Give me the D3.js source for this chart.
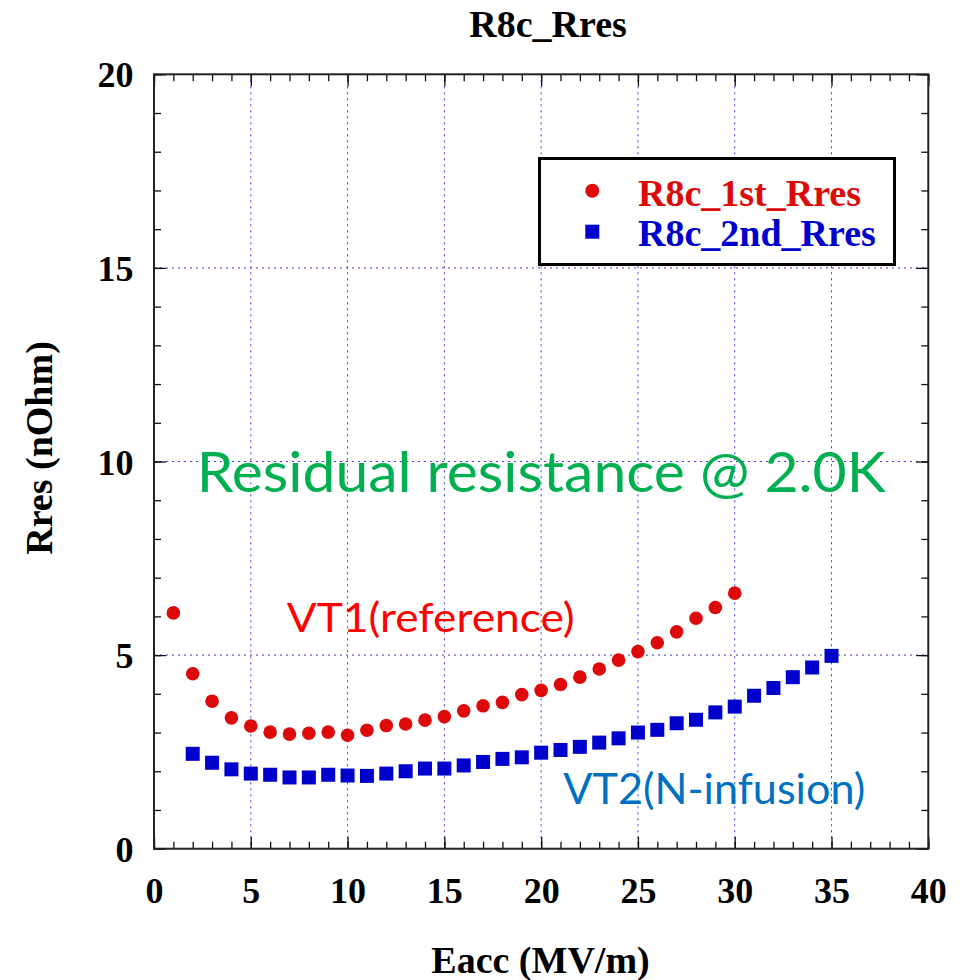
<!DOCTYPE html>
<html>
<head>
<meta charset="utf-8">
<script src="https://cdn.jsdelivr.net/npm/d3@7"></script>
<style>
html,body{margin:0;padding:0;background:#fff;}
svg{display:block;}
</style>
</head>
<body>
<svg id="chart" width="965" height="980"></svg>
<script>
// ---- data ----
const eacc1 = [1,2,3,4,5,6,7,8,9,10,11,12,13,14,15,16,17,18,19,20,21,22,23,24,25,26,27,28,29,30];
const rres1 = [6.09,4.52,3.81,3.38,3.17,3.01,2.96,2.98,3.01,2.93,3.06,3.18,3.22,3.32,3.41,3.56,3.69,3.78,3.98,4.09,4.24,4.43,4.64,4.87,5.09,5.32,5.60,5.95,6.23,6.60];
const eacc2 = [2,3,4,5,6,7,8,9,10,11,12,13,14,15,16,17,18,19,20,21,22,23,24,25,26,27,28,29,30,31,32,33,34,35];
const rres2 = [2.45,2.22,2.05,1.94,1.91,1.84,1.84,1.91,1.89,1.88,1.94,2.00,2.07,2.07,2.15,2.24,2.32,2.36,2.48,2.55,2.63,2.74,2.85,3.00,3.07,3.24,3.33,3.52,3.67,3.95,4.15,4.43,4.68,4.98];
const xTicks = [0,5,10,15,20,25,30,35,40];
const yTicks = [0,5,10,15,20];
const seriesNames = ["R8c_1st_Rres","R8c_2nd_Rres"];
const chartTitle = "R8c_Rres";
const xTitle = "Eacc (MV/m)";
const yTitle = "Rres (nOhm)";

const svg = d3.select("#chart");
const L = 154, R = 928.3, T = 74.3, B = 848.7;
const x = d3.scaleLinear().domain([0,40]).range([L,R]);
const y = d3.scaleLinear().domain([0,20]).range([B,T]);
const serif = "'Liberation Serif','Times New Roman',serif";

// grid
const grid = svg.append("g").attr("stroke","#3a3ae0").attr("stroke-width",1).attr("stroke-dasharray","2,4");
xTicks.filter(d=>d>0&&d<40).forEach(d=>{
  grid.append("line").attr("x1",x(d)).attr("x2",x(d)).attr("y1",T).attr("y2",B);
});
yTicks.filter(d=>d>0&&d<20).forEach(d=>{
  grid.append("line").attr("x1",L).attr("x2",R).attr("y1",y(d)).attr("y2",y(d));
});

// axes
const minorX = d3.range(0,41,1), minorY = d3.range(0,21,1);
function styleAxis(g){
  g.select(".domain").remove();
  g.selectAll("line").attr("stroke","#111").attr("stroke-width",1.3);
}
svg.append("g").attr("transform",`translate(0,${B})`)
  .call(d3.axisBottom(x).tickValues(minorX).tickSize(-7).tickFormat(""))
  .call(styleAxis);
svg.append("g").attr("transform",`translate(0,${B})`)
  .call(d3.axisBottom(x).tickValues(xTicks).tickSize(-12).tickFormat(d3.format("d")))
  .call(styleAxis)
  .call(g=>g.selectAll("text").attr("y",54).attr("dy",null)
     .attr("font-family",serif).attr("font-weight","bold").attr("font-size",36).attr("fill","#000"));
svg.append("g").attr("transform",`translate(0,${T})`)
  .call(d3.axisTop(x).tickValues(minorX).tickSize(-7).tickFormat(""))
  .call(styleAxis);
svg.append("g").attr("transform",`translate(0,${T})`)
  .call(d3.axisTop(x).tickValues(xTicks).tickSize(-12).tickFormat(""))
  .call(styleAxis);
svg.append("g").attr("transform",`translate(${L},0)`)
  .call(d3.axisLeft(y).tickValues(minorY).tickSize(-7).tickFormat(""))
  .call(styleAxis);
svg.append("g").attr("transform",`translate(${L},0)`)
  .call(d3.axisLeft(y).tickValues(yTicks).tickSize(-12).tickFormat(d3.format("d")))
  .call(styleAxis)
  .call(g=>g.selectAll("text").attr("x",-20.5).attr("dy","0.35em")
     .attr("font-family",serif).attr("font-weight","bold").attr("font-size",36).attr("fill","#000"));
svg.append("g").attr("transform",`translate(${R},0)`)
  .call(d3.axisRight(y).tickValues(minorY).tickSize(-7).tickFormat(""))
  .call(styleAxis);
svg.append("g").attr("transform",`translate(${R},0)`)
  .call(d3.axisRight(y).tickValues(yTicks).tickSize(-12).tickFormat(""))
  .call(styleAxis);

// frame
svg.append("rect").attr("x",L).attr("y",T).attr("width",R-L).attr("height",B-T)
  .attr("fill","none").attr("stroke","#222").attr("stroke-width",2);

// data
const red = "#dd0a0a", blue = "#0000cc";
svg.append("g").selectAll("circle").data(eacc1.map((e,i)=>[e,rres1[i]])).join("circle")
  .attr("cx",d=>x(d[0])).attr("cy",d=>y(d[1])).attr("r",6.8).attr("fill",red);
const s = 14;
svg.append("g").selectAll("rect").data(eacc2.map((e,i)=>[e,rres2[i]])).join("rect")
  .attr("x",d=>x(d[0])-s/2).attr("y",d=>y(d[1])-s/2).attr("width",s).attr("height",s).attr("fill",blue);

// legend
const lg = svg.append("g");
lg.append("rect").attr("x",539.5).attr("y",158.5).attr("width",355).attr("height",106)
  .attr("fill","#fff").attr("stroke","#000").attr("stroke-width",3);
lg.append("circle").attr("cx",592.3).attr("cy",190.7).attr("r",7).attr("fill",red);
lg.append("rect").attr("x",592.3-7).attr("y",231.7-7).attr("width",14).attr("height",14).attr("fill",blue);
lg.append("text").attr("x",638).attr("y",205.5).text(seriesNames[0])
  .attr("font-family",serif).attr("font-weight","bold").attr("font-size",38).attr("fill",red);
lg.append("text").attr("x",638).attr("y",246).text(seriesNames[1])
  .attr("font-family",serif).attr("font-weight","bold").attr("font-size",38).attr("fill",blue);

// titles
svg.append("text").attr("x",548).attr("y",37.3).attr("text-anchor","middle").text(chartTitle)
  .attr("font-family",serif).attr("font-weight","bold").attr("font-size",38).attr("fill","#000");
svg.append("text").attr("x",540.5).attr("y",973).attr("text-anchor","middle").text(xTitle)
  .attr("font-family",serif).attr("font-weight","bold").attr("font-size",38).attr("fill","#000");
svg.append("text").attr("transform","translate(51.5,448) rotate(-90)").attr("text-anchor","middle").text(yTitle)
  .attr("font-family",serif).attr("font-weight","bold").attr("font-size",38).attr("fill","#000");

// annotations
const sans = "Lato,'Open Sans',sans-serif";
svg.append("text").attr("x",196.7).attr("y",491.7).text("Residual resistance @ 2.0K")
  .attr("font-family",sans).attr("font-size",57).attr("fill","#00b050")
  .attr("textLength",689).attr("lengthAdjust","spacingAndGlyphs");
svg.append("text").attr("x",286.7).attr("y",631.7).text("VT1(reference)")
  .attr("font-family",sans).attr("font-size",40).attr("fill","#ff0000")
  .attr("textLength",288).attr("lengthAdjust","spacingAndGlyphs");
svg.append("text").attr("x",563.3).attr("y",804.3).text("VT2(N-infusion)")
  .attr("font-family",sans).attr("font-size",43).attr("fill","#0070c0")
  .attr("textLength",302).attr("lengthAdjust","spacingAndGlyphs");
</script>
</body>
</html>
